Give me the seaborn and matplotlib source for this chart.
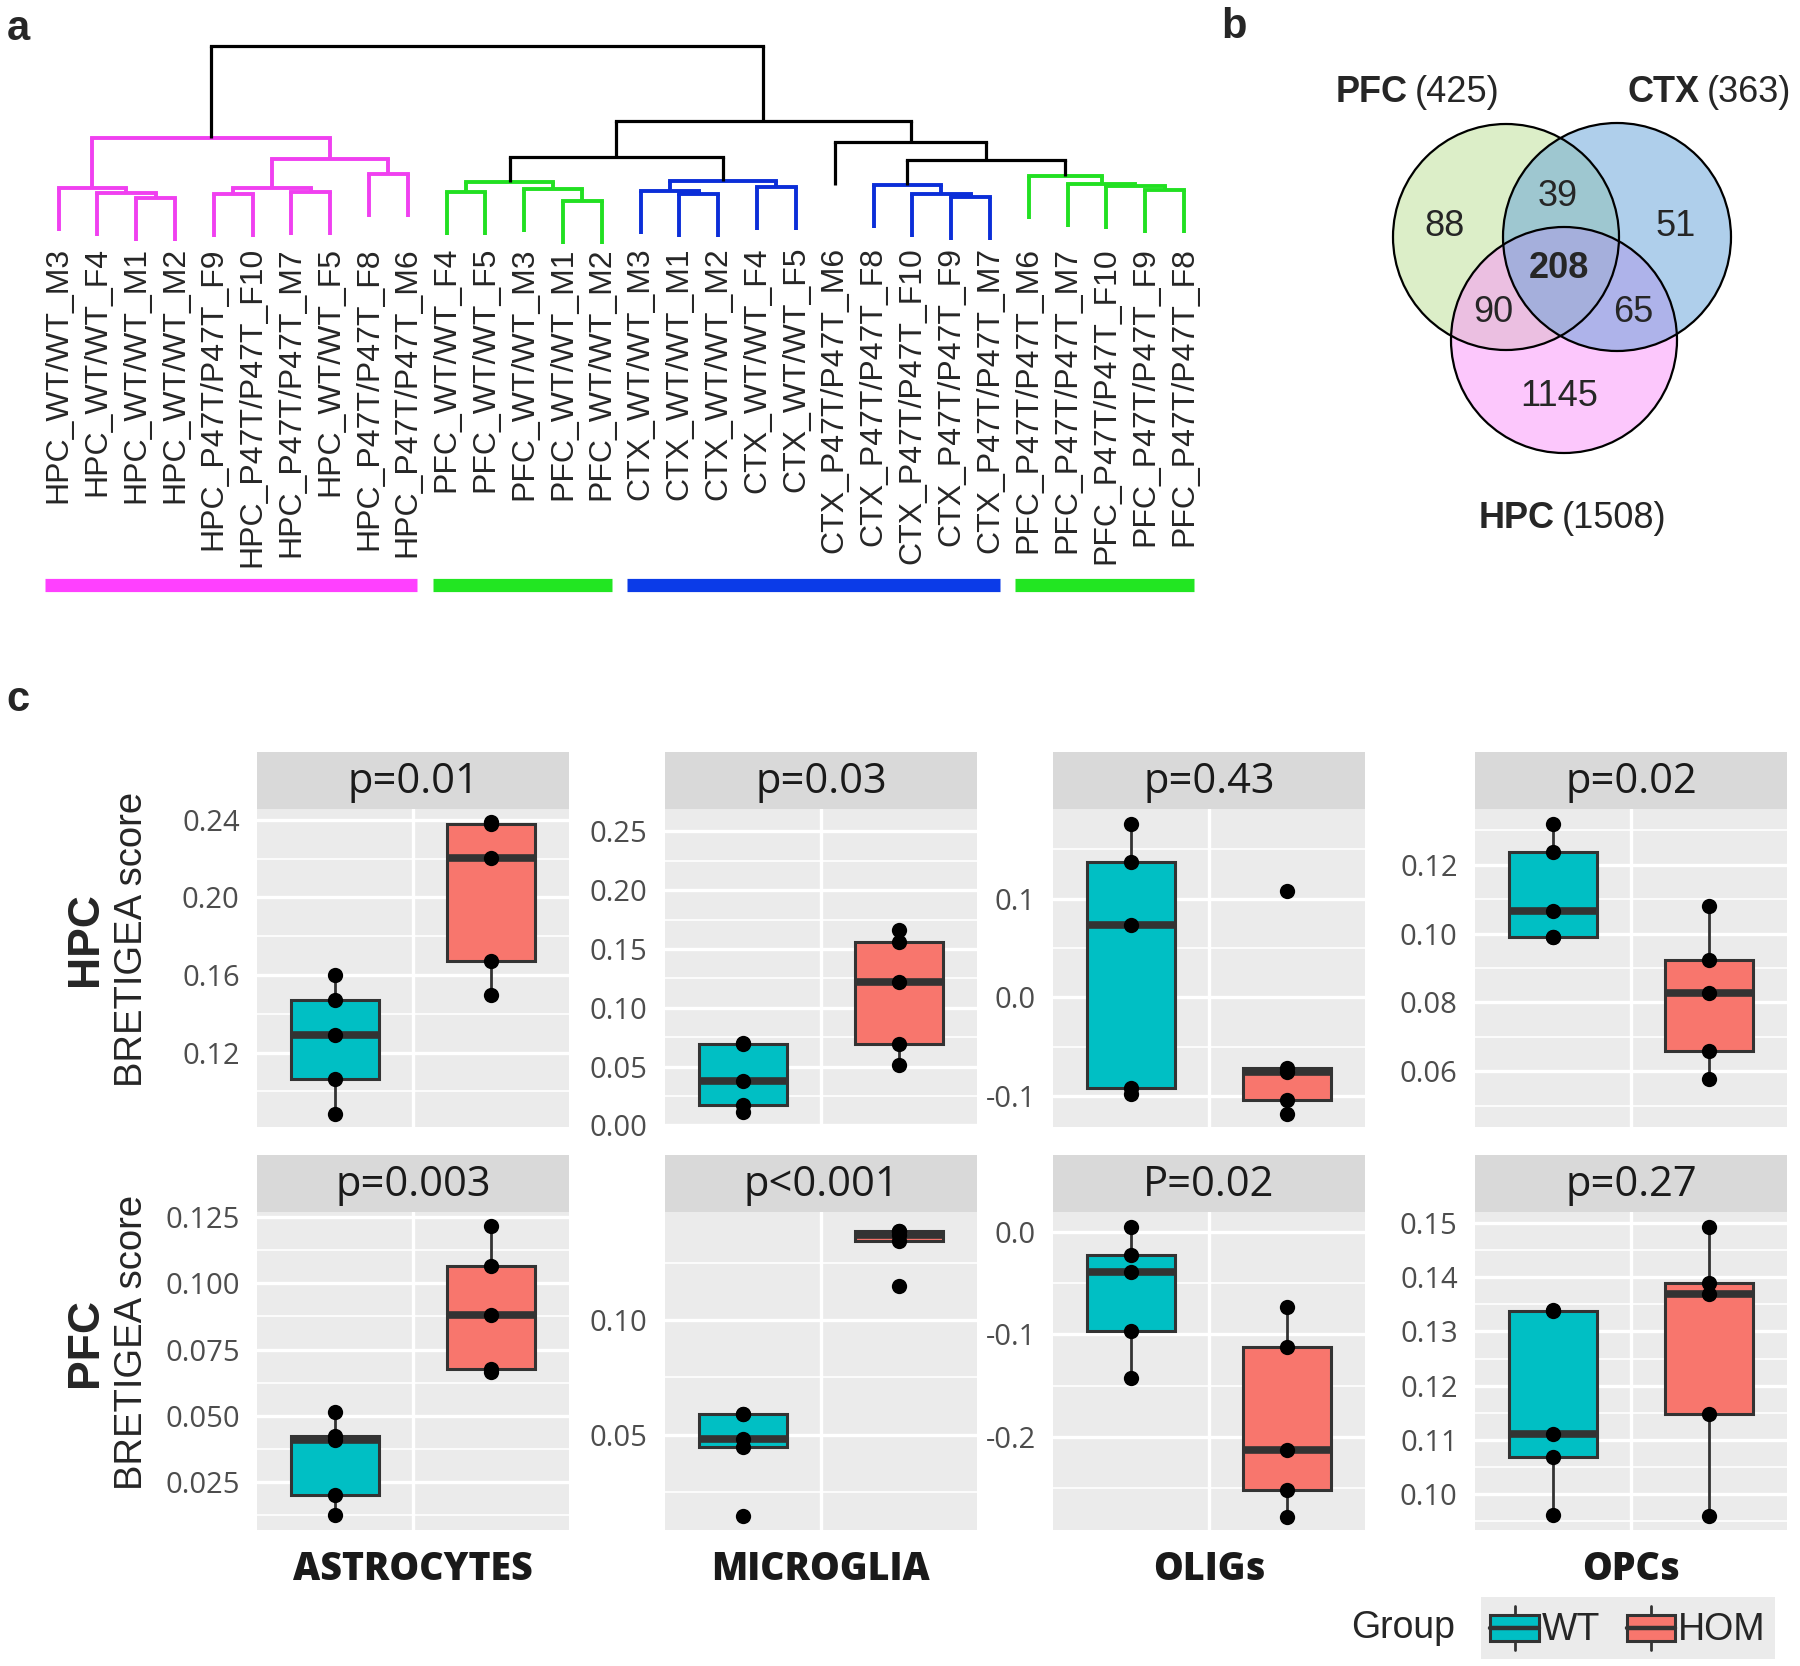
import numpy as np
import pandas as pd
import matplotlib
matplotlib.use("Agg")
import matplotlib.pyplot as plt
import seaborn as sns
from matplotlib.patches import Circle, Rectangle, Patch
from matplotlib.lines import Line2D
from matplotlib.legend_handler import HandlerBase

# ----------------------------------------------------------------- data: a
leaf_labels = [
    "HPC_WT/WT_M3", "HPC_WT/WT_F4", "HPC_WT/WT_M1", "HPC_WT/WT_M2",
    "HPC_P47T/P47T_F9", "HPC_P47T/P47T_F10", "HPC_P47T/P47T_M7", "HPC_WT/WT_F5",
    "HPC_P47T/P47T_F8", "HPC_P47T/P47T_M6",
    "PFC_WT/WT_F4", "PFC_WT/WT_F5", "PFC_WT/WT_M3", "PFC_WT/WT_M1", "PFC_WT/WT_M2",
    "CTX_WT/WT_M3", "CTX_WT/WT_M1", "CTX_WT/WT_M2", "CTX_WT/WT_F4", "CTX_WT/WT_F5",
    "CTX_P47T/P47T_M6", "CTX_P47T/P47T_F8", "CTX_P47T/P47T_F10", "CTX_P47T/P47T_F9",
    "CTX_P47T/P47T_M7",
    "PFC_P47T/P47T_M6", "PFC_P47T/P47T_M7", "PFC_P47T/P47T_F10", "PFC_P47T/P47T_F9",
    "PFC_P47T/P47T_F8",
]
# merges: ints are leaves, "mK" refers to merge K
merge_left = [2, 1, 0, 4, 6, "m3", 8, "m5", "m2", 10, 13, 12, "m9", 16, 15, 18,
              "m14", "m12", 23, 22, 21, 28, 27, 26, 25, "m20", 20, "m17", "m8"]
merge_right = [3, "m0", "m1", 5, 7, "m4", 9, "m6", "m7", 11, 14, "m10", "m11", 17,
               "m13", 19, "m15", "m16", 24, "m18", "m19", 29, "m21", "m22", "m23",
               "m24", "m25", "m26", "m27"]
merge_height = [0.62, 0.67, 0.72, 0.66, 0.68, 0.72, 0.86, 1.01, 1.22, 0.68, 0.59,
                0.71, 0.78, 0.66, 0.69, 0.73, 0.79, 1.03, 0.63, 0.66, 0.75, 0.70,
                0.74, 0.76, 0.84, 1.00, 1.18, 1.39, 2.14]
cluster_roots = ["m8", "m12", "m16", "m20", "m24"]
cluster_colors = ["#F040F0", "#22E022", "#0B2ED8", "#0B2ED8", "#22E022"]
bar_first_leaf = [0, 10, 15, 25]
bar_last_leaf = [9, 14, 24, 29]
bar_colors = ["#FF40FF", "#22E622", "#0B3BE8", "#22E622"]

# ----------------------------------------------------------------- data: b
venn_sets = ["PFC", "CTX", "HPC"]
venn_only = [88, 51, 1145]          # PFC only, CTX only, HPC only
venn_pfc_ctx = 39
venn_pfc_hpc = 90
venn_ctx_hpc = 65
venn_all = 208

# ----------------------------------------------------------------- data: c
regions = ["HPC", "PFC"]
celltypes = ["ASTROCYTES", "MICROGLIA", "OLIGs", "OPCs"]
groups = ["WT", "HOM"]
pvals_hpc = ["p=0.01", "p=0.03", "p=0.43", "p=0.02"]
pvals_pfc = ["p=0.003", "p<0.001", "P=0.02", "p=0.27"]

hpc_astro_wt = [0.0886, 0.1063, 0.1292, 0.1469, 0.1598]
hpc_astro_hom = [0.1495, 0.1670, 0.2203, 0.2378, 0.2390]
hpc_micro_wt = [0.0113, 0.0176, 0.0375, 0.0690, 0.0702]
hpc_micro_hom = [0.0513, 0.0688, 0.1220, 0.1560, 0.1657]
hpc_olig_wt = [-0.0976, -0.0916, 0.0730, 0.1370, 0.1760]
hpc_olig_hom = [-0.1180, -0.1037, -0.0757, -0.0713, 0.1080]
hpc_opc_wt = [0.0989, 0.0991, 0.1066, 0.1236, 0.1318]
hpc_opc_hom = [0.0578, 0.0660, 0.0826, 0.0923, 0.1081]
pfc_astro_wt = [0.0125, 0.0203, 0.0408, 0.0425, 0.0514]
pfc_astro_hom = [0.0665, 0.0676, 0.0880, 0.1066, 0.1216]
pfc_micro_wt = [0.0144, 0.0446, 0.0480, 0.0588, 0.0590]
pfc_micro_hom = [0.1152, 0.1348, 0.1373, 0.1390, 0.1392]
pfc_olig_wt = [-0.1430, -0.0970, -0.0390, -0.0228, 0.0049]
pfc_olig_hom = [-0.2780, -0.2520, -0.2130, -0.1128, -0.0732]
pfc_opc_wt = [0.0962, 0.1069, 0.1110, 0.1338, 0.1340]
pfc_opc_hom = [0.0959, 0.1148, 0.1368, 0.1389, 0.1492]

hpc_ticks = [[0.12, 0.16, 0.20, 0.24], [0.00, 0.05, 0.10, 0.15, 0.20, 0.25],
             [-0.1, 0.0, 0.1], [0.06, 0.08, 0.10, 0.12]]
pfc_ticks = [[0.025, 0.050, 0.075, 0.100, 0.125], [0.05, 0.10],
             [-0.2, -0.1, 0.0], [0.10, 0.11, 0.12, 0.13, 0.14, 0.15]]

# ----------------------------------------------------------------- layout / style
W, H = 1800, 1666
sns.set_style("white")
plt.rcParams["font.family"] = ["Liberation Sans", "DejaVu Sans"]
fig = plt.figure(figsize=(W / 100, H / 100), dpi=100)
fig.patch.set_facecolor("white")


def rect(x0, y0, x1, y1):
    return [x0 / W, 1 - y1 / H, (x1 - x0) / W, (y1 - y0) / H]


def ftext(x, y, s, **kw):
    return fig.text(x / W, 1 - y / H, s, **kw)


# panel letters
for lab, (px, py) in zip(["a", "b", "c"], [(18, 29), (1234, 27), (18, 700)]):
    ftext(px, py, lab, fontsize=30, fontweight="bold", ha="center", va="center")

# ----------------------------------------------------------------- panel a
ax_a = fig.add_axes(rect(39.1, 0, 1203.4, 620))
ax_a.set_xlim(-0.5, 29.5)
ax_a.set_ylim(-3.6, 2.6)
ax_a.axis("off")

n_merge = len(merge_height)
mx = [0.0] * n_merge


def node_x(n):
    return float(n) if isinstance(n, int) else mx[int(n[1:])]


for k in range(n_merge):
    mx[k] = (node_x(merge_left[k]) + node_x(merge_right[k])) / 2

merge_color = ["black"] * n_merge
for root, col in zip(cluster_roots, cluster_colors):
    stack = [int(root[1:])]
    while stack:
        k = stack.pop()
        merge_color[k] = col
        for c in (merge_left[k], merge_right[k]):
            if not isinstance(c, int):
                stack.append(int(c[1:]))

hang = 0.43
for k in range(n_merge):
    h = merge_height[k]
    col = merge_color[k]
    lw = 2.3 if col == "black" else 2.8
    for c in (merge_left[k], merge_right[k]):
        cx = node_x(c)
        ch = h - hang if isinstance(c, int) else merge_height[int(c[1:])]
        ax_a.plot([cx, cx], [ch, h], color=col, lw=lw, solid_capstyle="butt")
    ax_a.plot([node_x(merge_left[k]), node_x(merge_right[k])], [h, h], color=col,
              lw=lw, solid_capstyle="projecting")

for i, lab in enumerate(leaf_labels):
    ax_a.text(i, 0.13, lab, rotation=90, ha="center", va="top", fontsize=23,
              family="Liberation Sans")

for s, e, c in zip(bar_first_leaf, bar_last_leaf, bar_colors):
    ax_a.plot([s - 0.35, e + 0.25], [-3.25, -3.25], color=c, lw=9.5,
              solid_capstyle="butt")

# ----------------------------------------------------------------- panel b
ax_b = fig.add_axes(rect(1320, 40, 1800, 540))
ax_b.set_xlim(1320, 1800)
ax_b.set_ylim(540, 40)
ax_b.axis("off")
circ_xy = [(1506, 237), (1564, 340), (1617, 237)]      # PFC, HPC, CTX draw order
circ_r = [113, 113, 114]
circ_fc = ["#BBDF93", "#FB91FB", "#61A1D9"]
for (cx, cy), r, fc in zip(circ_xy, circ_r, circ_fc):
    ax_b.add_patch(Circle((cx, cy), r, facecolor=fc, alpha=0.5, edgecolor="none"))
for (cx, cy), r in zip(circ_xy, circ_r):
    ax_b.add_patch(Circle((cx, cy), r, facecolor="none", edgecolor="black", lw=1.6))

totals = [venn_only[0] + venn_pfc_ctx + venn_pfc_hpc + venn_all,
          venn_only[1] + venn_pfc_ctx + venn_ctx_hpc + venn_all,
          venn_only[2] + venn_pfc_hpc + venn_ctx_hpc + venn_all]
name_split = [(1408, 92), (1700, 92), (1555, 518)]
for nm, tot, (sx, sy) in zip(venn_sets, totals, name_split):
    ax_b.text(sx, sy, nm, fontsize=26, fontweight="bold", ha="right", va="center")
    ax_b.text(sx + 7, sy, f"({tot})", fontsize=26, ha="left", va="center")

region_vals = [venn_only[0], venn_pfc_ctx, venn_only[1], venn_all, venn_pfc_hpc,
               venn_ctx_hpc, venn_only[2]]
region_xy = [(1444, 226), (1558, 196), (1676, 226), (1559, 269), (1493, 313),
             (1633, 313), (1559, 396)]
for v, (x, y) in zip(region_vals, region_xy):
    ax_b.text(x, y, str(v), fontsize=26, ha="center", va="center",
              fontweight="bold" if v == venn_all else "normal")

# ----------------------------------------------------------------- panel c
teal, salmon = "#00BFC4", "#F8766D"
edge = "#333333"
panel_data = {
    ("HPC", 0): (hpc_astro_wt, hpc_astro_hom), ("HPC", 1): (hpc_micro_wt, hpc_micro_hom),
    ("HPC", 2): (hpc_olig_wt, hpc_olig_hom), ("HPC", 3): (hpc_opc_wt, hpc_opc_hom),
    ("PFC", 0): (pfc_astro_wt, pfc_astro_hom), ("PFC", 1): (pfc_micro_wt, pfc_micro_hom),
    ("PFC", 2): (pfc_olig_wt, pfc_olig_hom), ("PFC", 3): (pfc_opc_wt, pfc_opc_hom),
}
ylims = {
    ("HPC", 0): (0.0817, 0.2455), ("HPC", 1): (-0.0014, 0.269),
    ("HPC", 2): (-0.1314, 0.191), ("HPC", 3): (0.0438, 0.1362),
    ("PFC", 0): (0.0070, 0.1269), ("PFC", 1): (0.0082, 0.1474),
    ("PFC", 2): (-0.291, 0.0195), ("PFC", 3): (0.0934, 0.152),
}
col_left = [257, 665, 1053, 1475]
col_w = 312
row_strip_top = [752, 1155]
strip_h = 57
row_panel_bottom = [1127, 1530]

for ri, reg in enumerate(regions):
    ticks_row = hpc_ticks if reg == "HPC" else pfc_ticks
    pv_row = pvals_hpc if reg == "HPC" else pvals_pfc
    top = row_strip_top[ri] + strip_h
    bot = row_panel_bottom[ri]
    for ci, ct in enumerate(celltypes):
        x0 = col_left[ci]
        ax = fig.add_axes(rect(x0, top, x0 + col_w, bot))
        ax.set_facecolor("#EBEBEB")
        wt, hom = panel_data[(reg, ci)]
        df = pd.DataFrame({"score": wt + hom,
                           "Group": ["WT"] * len(wt) + ["HOM"] * len(hom)})
        sns.boxplot(data=df, x="Group", y="score", hue="Group", order=groups,
                    hue_order=groups, palette={"WT": teal, "HOM": salmon},
                    saturation=1, width=0.57, linewidth=2.2, linecolor=edge,
                    showfliers=False, dodge=False, legend=False, ax=ax,
                    medianprops=dict(linewidth=5.5, color=edge),
                    whiskerprops=dict(linewidth=2.0, color=edge),
                    capprops=dict(visible=False), zorder=3)
        sns.stripplot(data=df, x="Group", y="score", order=groups, color="black",
                      jitter=False, size=11, ax=ax, zorder=5, linewidth=0)
        ax.set_xlim(-0.5, 1.5)
        ax.set_ylim(*ylims[(reg, ci)])
        ticks = ticks_row[ci]
        dec = max(len(f"{t:g}".split(".")[-1]) if "." in f"{t:g}" else 0 for t in ticks)
        dec = max(dec, 1)
        ax.set_yticks(ticks, labels=[f"{t:.{dec}f}" for t in ticks],
                      fontfamily="Open Sans")
        step = ticks[1] - ticks[0]
        lo, hi = ylims[(reg, ci)]
        minor = np.arange(ticks[0] - step / 2, hi, step)
        minor = minor[(minor > lo) & (minor < hi)]
        ax.set_yticks(minor, minor=True)
        ax.set_xticks([0.5], labels=[ct if ri == 1 else ""], fontfamily="Open Sans",
                      fontweight="heavy")
        ax.grid(which="major", axis="both", color="white", lw=2.4)
        ax.grid(which="minor", axis="y", color="white", lw=1.2)
        ax.set_axisbelow(True)
        for sp in ax.spines.values():
            sp.set_visible(False)
        ax.tick_params(axis="y", which="major", length=5.5, width=2, color=edge,
                       pad=7, labelsize=21, labelcolor="#4D4D4D")
        ax.tick_params(axis="y", which="minor", length=0)
        ax.tick_params(axis="x", which="major", length=5.5, width=2, color=edge,
                       pad=9, labelsize=27, labelcolor="#1A1A1A")
        ax.set_xlabel("")
        ax.set_ylabel("")
        # facet strip
        axs = fig.add_axes(rect(x0, row_strip_top[ri], x0 + col_w, top))
        axs.set_facecolor("#D9D9D9")
        axs.set_xticks([])
        axs.set_yticks([])
        for sp in axs.spines.values():
            sp.set_visible(False)
        axs.text(0.5, 0.47, pv_row[ci], ha="center", va="center", fontsize=30,
                 family="Open Sans", color="#1A1A1A", transform=axs.transAxes)
    yc = (row_strip_top[ri] + bot) / 2
    ftext(86, yc, reg, rotation=90, fontsize=32, fontweight="bold", ha="center",
          va="center")
    ftext(132, yc, "BRETIGEA score", rotation=90, fontsize=27.5, ha="center",
          va="center")


# legend
class BoxKeyHandler(HandlerBase):
    def create_artists(self, legend, orig_handle, xdescent, ydescent, width, height,
                       fontsize, trans):
        fc = orig_handle.get_facecolor()
        bh = height * 0.58
        x0 = -xdescent
        y0 = -ydescent + (height - bh) / 2
        box = Rectangle((x0, y0), width, bh, facecolor=fc, edgecolor=edge, lw=2.2,
                        transform=trans)
        med = Line2D([x0, x0 + width], [y0 + bh / 2] * 2, color=edge, lw=3.2,
                     transform=trans)
        xm = x0 + width / 2
        w1 = Line2D([xm, xm], [y0 + bh, -ydescent + height], color=edge, lw=2.0,
                    transform=trans)
        w2 = Line2D([xm, xm], [-ydescent, y0], color=edge, lw=2.0, transform=trans)
        return [box, med, w1, w2]


handles = [Patch(facecolor=teal, label="WT"), Patch(facecolor=salmon, label="HOM")]
leg = fig.legend(handles=handles, labels=groups, ncol=2, loc="center",
                 bbox_to_anchor=(1628 / W, 1 - 1628 / H), frameon=True,
                 facecolor="#EBEBEB", edgecolor="none", framealpha=1, fancybox=False,
                 fontsize=27, handlelength=1.3, handleheight=1.4, handletextpad=0.08,
                 columnspacing=0.7, borderpad=0.25,
                 handler_map={Patch: BoxKeyHandler()})
ftext(1403, 1628, "Group", fontsize=27, ha="center", va="center")

fig.savefig("out.png", dpi=100, facecolor="white")
